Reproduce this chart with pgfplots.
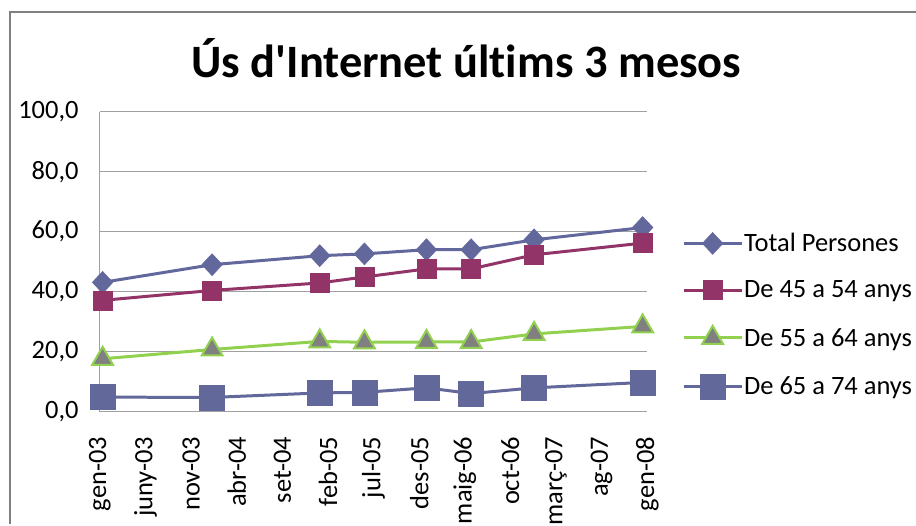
\documentclass[border=0pt]{standalone}
\usepackage{fontspec}
\setmainfont{Carlito}[Ligatures={TeX,NoCommon}]
\newfontfamily\titlefont{Carlito}[Ligatures=NoCommon]
\usepackage{pgfplots}
\pgfplotsset{compat=1.18}
\usetikzlibrary{calc}
\definecolor{cTot}{RGB}{98,103,156}
\definecolor{cA}{RGB}{146,52,104}
\definecolor{cB}{RGB}{146,208,80}
\definecolor{cBfill}{RGB}{128,128,128}
\definecolor{cC}{RGB}{98,104,153}
\definecolor{gridc}{RGB}{160,160,160}

\begin{document}
\begin{tikzpicture}[x=1pt,y=1pt]
\begin{axis}[
  scale only axis, width=548pt, height=300pt,
  xmin=0, xmax=60, ymin=0, ymax=100,
  axis lines=left,
  axis line style={-, draw=gridc, line width=1pt},
  tick style={draw=none},
  ymajorgrids, grid style={gridc, line width=1pt},
  ytick={0,20,...,100},
  xtick={0,5,...,60},
  xticklabels={gen-03,juny-03,nov-03,abr-04,set-04,feb-05,jul-05,des-05,maig-06,oct-06,març-07,ag-07,gen-08},
  ticklabel style={font=\fontsize{26.5}{30}\selectfont},
  xticklabel style={inner sep=0pt, yshift=-23pt, rotate=90, anchor=east},
  yticklabel style={inner sep=0pt, xshift=-19pt, anchor=east},
  yticklabel={\pgfmathprintnumber[fixed,zerofill,precision=1,use comma,assume math mode=true]{\tick}},
  clip=false,
  legend style={at={(axis description cs:1.058,0.605)}, anchor=north west, draw=none, fill=none,
    font=\fontsize{26.5}{30}\selectfont, row sep=25.5pt, nodes={inner sep=1pt}},
  legend cell align=left,
  legend image code/.code={\draw[mark repeat=2,mark phase=2] plot coordinates {(0pt,0pt)(29pt,0pt)(58pt,0pt)};},
]
\coordinate (O) at (rel axis cs:0,0);
\addplot[cTot, line width=3pt, mark=diamond*, mark size=11pt, mark options={xscale=1.25, solid, fill=cTot, draw=cTot, line width=0.5pt}]
  coordinates {(0.3,43.1)(12.3,49.0)(24.1,52.0)(29.0,52.6)(35.8,54.0)(40.7,54.0)(47.6,57.3)(59.5,61.4)};
\addplot[cA, line width=3pt, mark=square*, mark size=9.5pt, mark options={fill=cA, draw=cA, line width=0.5pt}]
  coordinates {(0.3,37.1)(12.3,40.4)(24.1,42.9)(29.0,44.9)(35.8,47.6)(40.7,47.6)(47.6,52.3)(59.5,56.2)};
\addplot[cB, line width=3pt, mark=triangle*, mark size=12pt, mark options={fill=cBfill, draw=cB, line width=2pt}]
  coordinates {(0.3,17.6)(12.3,20.7)(24.1,23.4)(29.0,23.1)(35.8,23.2)(40.7,23.2)(47.6,25.9)(59.5,28.4)};
\addplot[cC, line width=3pt, mark=square*, mark size=12.5pt, mark options={fill=cC, draw=cC, line width=0.5pt}]
  coordinates {(0.3,4.8)(12.3,4.7)(24.1,6.2)(29.0,6.4)(35.8,7.9)(40.7,6.0)(47.6,7.9)(59.5,9.7)};
\legend{Total Persones, De 45 a 54 anys, De 55 a 64 anys, De 65 a 74 anys}
\end{axis}
\coordinate (BL) at ($(O)+(-100,-108)$);
\path[use as bounding box] (BL) rectangle ++(916,520);
\draw[black!50, line width=1.5pt] ($(BL)+(10,-5)$) -- ($(BL)+(10,508)$) -- ($(BL)+(930,508)$);
\node[anchor=base, font=\titlefont\fontsize{46.5}{50}\selectfont\bfseries] at ($(BL)+(467,442)$) {Ús d'Internet últims 3 mesos};
\end{tikzpicture}
\end{document}
